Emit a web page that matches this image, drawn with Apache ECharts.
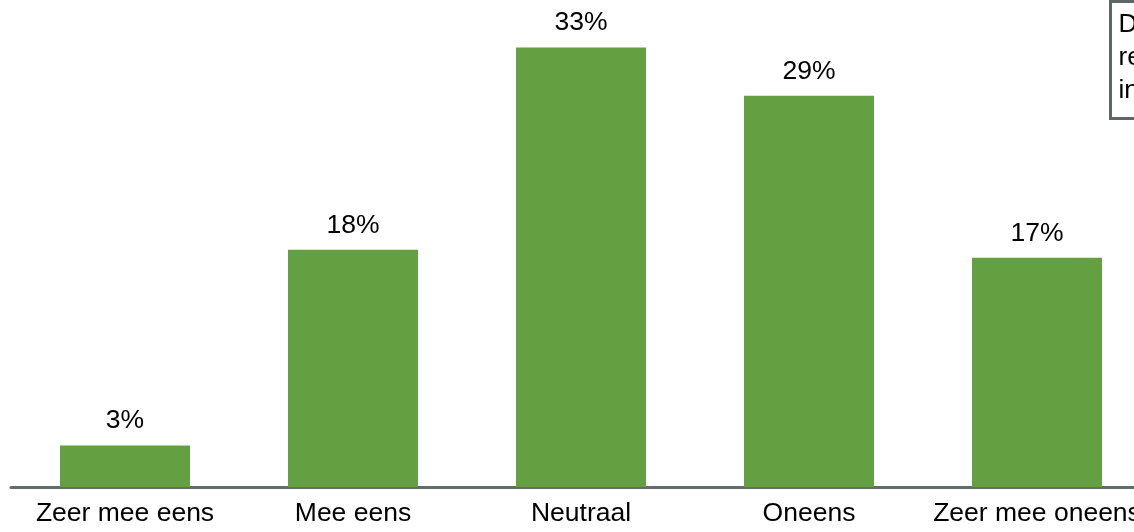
<!DOCTYPE html>
<html>
<head>
<meta charset="utf-8">
<script src="https://cdn.jsdelivr.net/npm/echarts@6/dist/echarts.min.js"></script>
<style>
html,body{margin:0;padding:0;background:#fff;overflow:hidden;width:1134px;height:532px;}
#chart{width:1151px;height:532px;}
</style>
</head>
<body>
<div id="chart"></div>
<script>
const categories = ['Zeer mee eens', 'Mee eens', 'Neutraal', 'Oneens', 'Zeer mee oneens'];
const values = [3.1, 17.7, 32.8, 29.2, 17.1];
const boxLines = ['Deze resultaten', 'respondenten', 'in procenten'];

const chart = echarts.init(document.getElementById('chart'), null, {renderer: 'canvas'});
const font = '"Liberation Sans", Arial, sans-serif';
chart.setOption({
  animation: false,
  backgroundColor: '#ffffff',
  grid: {left: 11, right: 0, top: 18, bottom: 45, containLabel: false},
  xAxis: {
    type: 'category',
    data: categories,
    axisLine: {show: true, lineStyle: {color: '#646b6b', width: 3}},
    axisTick: {show: false},
    axisLabel: {color: '#000', fontSize: 26.5, fontFamily: font, margin: 13, interval: 0}
  },
  yAxis: {
    type: 'value', min: 0, max: 35,
    show: false,
    splitLine: {show: false}
  },
  series: [{
    type: 'bar',
    data: values,
    barWidth: 130,
    itemStyle: {color: '#63a042'},
    label: {
      show: true, position: 'top', distance: 11,
      color: '#000', fontSize: 26.5, fontFamily: font,
      formatter: p => Math.round(p.value) + '%'
    }
  }],
  graphic: [{
    type: 'group',
    left: 1109, top: 0,
    children: [
      {type: 'rect', shape: {x: 0, y: 0, width: 120, height: 117},
       style: {fill: '#ffffff', stroke: '#5f6666', lineWidth: 3}},
      {type: 'text', left: 8, top: 7,
       style: {text: boxLines.join('\n'), fill: '#000', font: '26px ' + font, lineHeight: 33}}
    ]
  }]
});
</script>
</body>
</html>
